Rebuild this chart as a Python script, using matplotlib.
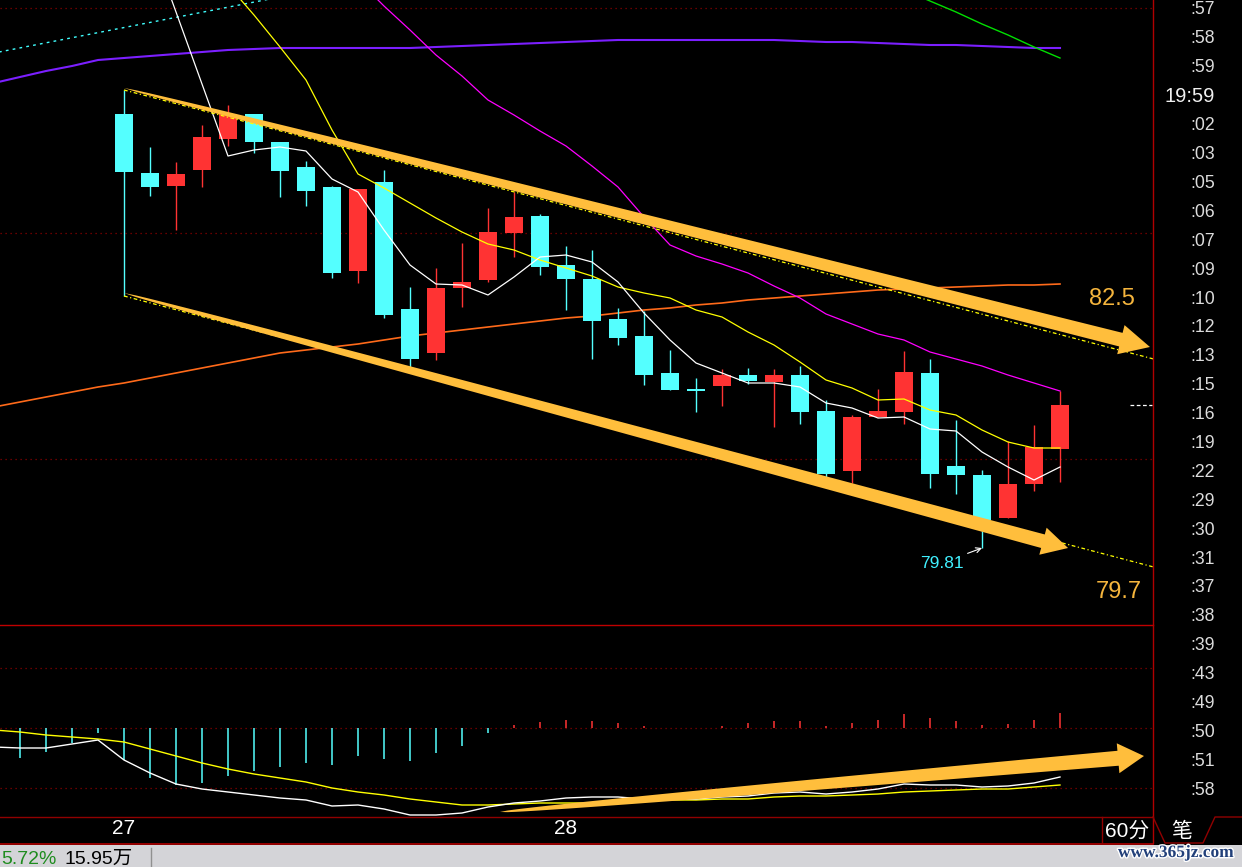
import numpy as np
import matplotlib
matplotlib.use("Agg")
import matplotlib.pyplot as plt
from matplotlib.patches import Polygon, Rectangle
import matplotlib.patheffects as pe

plt.rcParams['font.family'] = ['Liberation Sans', 'Noto Sans CJK SC', 'DejaVu Sans']

# ---- K线数据 (60分) ----
opens = [84.15, 83.56, 83.43, 83.59, 83.90, 84.15, 83.87, 83.62, 83.42, 82.58,
         83.47, 82.20, 81.76, 82.41, 82.49, 82.96, 83.13, 82.64, 82.50, 82.10,
         81.93, 81.56, 81.40, 81.43, 81.54, 81.47, 81.54, 81.18, 80.58, 81.12,
         81.17, 81.56, 80.63, 80.54, 80.11, 80.45, 80.80]
closes = [83.57, 83.42, 83.55, 83.92, 84.15, 83.87, 83.58, 83.38, 82.56, 83.40,
          82.14, 81.70, 82.41, 82.47, 82.97, 83.12, 82.62, 82.50, 82.08, 81.91,
          81.54, 81.39, 81.38, 81.54, 81.48, 81.54, 81.17, 80.55, 81.12, 81.18,
          81.57, 80.55, 80.54, 80.09, 80.45, 80.82, 81.24]
highs = [84.39, 83.82, 83.67, 84.04, 84.24, 84.15, 83.87, 83.68, 83.43, 83.40,
         83.59, 82.42, 82.61, 82.86, 83.21, 83.37, 83.15, 82.83, 82.79, 82.21,
         82.18, 81.79, 81.51, 81.60, 81.61, 81.60, 81.63, 81.29, 81.14, 81.40,
         81.78, 81.70, 81.09, 80.59, 80.88, 81.04, 81.38]
lows = [82.33, 83.33, 82.99, 83.42, 83.83, 83.76, 83.32, 83.23, 82.51, 82.46,
        82.11, 81.56, 81.69, 82.22, 82.47, 82.72, 82.54, 82.19, 81.70, 81.84,
        81.44, 81.39, 81.17, 81.23, 81.45, 81.02, 81.05, 80.52, 80.46, 81.12,
        81.05, 80.41, 80.35, 79.81, 80.11, 80.38, 80.47]

# ---- 均线 (起始序号, 数值) ----
ma5_start = 0
ma5 = [86.59, 85.89, 85.17, 84.45, 83.73, 83.79, 83.82, 83.78, 83.50, 83.37,
       82.99, 82.64, 82.45, 82.44, 82.34, 82.52, 82.72, 82.74, 82.67, 82.47,
       82.16, 81.89, 81.66, 81.56, 81.46, 81.46, 81.42, 81.26, 81.21, 81.11,
       81.12, 81.00, 80.98, 80.77, 80.62, 80.49, 80.62]
ma10_start = 4
ma10 = [85.44, 85.14, 84.82, 84.49, 83.99, 83.55, 83.41, 83.26, 83.11, 82.97,
        82.85, 82.79, 82.69, 82.61, 82.53, 82.42, 82.36, 82.31, 82.19, 82.12,
        81.97, 81.84, 81.67, 81.49, 81.41, 81.29, 81.30, 81.19, 81.14, 80.99,
        80.87, 80.81, 80.81]
ma20_start = 8
ma20 = [85.74, 85.49, 85.23, 84.99, 84.74, 84.53, 84.29, 84.14, 83.98, 83.83,
        83.63, 83.42, 83.12, 82.84, 82.73, 82.65, 82.56, 82.43, 82.31, 82.15,
        82.05, 81.95, 81.89, 81.77, 81.70, 81.63, 81.54, 81.46, 81.38]
ma60_start = -5
ma60 = [84.46, 84.52, 84.58, 84.63, 84.69, 84.71, 84.73, 84.75, 84.77, 84.79,
        84.80, 84.81, 84.81, 84.81, 84.81, 84.81, 84.81, 84.82, 84.83, 84.84,
        84.85, 84.86, 84.87, 84.88, 84.89, 84.89, 84.89, 84.89, 84.89, 84.89,
        84.89, 84.88, 84.87, 84.87, 84.86, 84.85, 84.84, 84.84, 84.83, 84.82,
        84.81, 84.81]
ma120_start = -5
ma120 = [81.22, 81.27, 81.32, 81.37, 81.42, 81.46, 81.51, 81.56, 81.61, 81.66,
         81.71, 81.76, 81.79, 81.82, 81.85, 81.89, 81.93, 81.96, 81.99, 82.02,
         82.05, 82.08, 82.11, 82.13, 82.16, 82.19, 82.21, 82.24, 82.26, 82.29,
         82.31, 82.33, 82.35, 82.37, 82.39, 82.40, 82.41, 82.42, 82.43, 82.44,
         82.44, 82.45]
ma40_start = 30
ma40 = [85.39, 85.28, 85.17, 85.05, 84.94, 84.82, 84.71]
cyan_x = [-5, 6]
cyan_y = [84.76, 85.32]

# ---- 通道线 ----
chan_x = [0, 39.6]
chan_up = [84.39, 81.70]
chan_dn = [82.33, 79.62]

# 箭头 (起点, 终点)
arrow_up = [(0, 84.41), (39.46, 81.82)]
arrow_dn = [(0, 82.36), (36.31, 79.81)]
arrow_macd = [(14.46, -0.084), (39.23, -0.028)]

# ---- MACD ----
macd_start = -4
macd_bar = [-0.030, -0.024, -0.015, -0.005, -0.032, -0.050, -0.057, -0.055, -0.048, -0.043,
            -0.039, -0.035, -0.037, -0.028, -0.031, -0.033, -0.025, -0.018, -0.005, 0.003,
            0.006, 0.008, 0.007, 0.005, 0.002, 0.0005, 0.0005, 0.002, 0.005, 0.007,
            0.007, 0.002, 0.005, 0.008, 0.014, 0.010, 0.007, 0.003, 0.004, 0.008,
            0.015]
line_start = -5
dif = [-0.019, -0.020, -0.020, -0.016, -0.012, -0.032, -0.045, -0.056, -0.061, -0.064,
       -0.067, -0.070, -0.072, -0.078, -0.077, -0.081, -0.087, -0.087, -0.085, -0.079,
       -0.075, -0.073, -0.070, -0.069, -0.069, -0.071, -0.071, -0.071, -0.069, -0.068,
       -0.065, -0.064, -0.066, -0.064, -0.061, -0.056, -0.057, -0.057, -0.059, -0.058,
       -0.055, -0.049]
dea = [-0.002, -0.004, -0.007, -0.009, -0.011, -0.014, -0.021, -0.028, -0.035, -0.041,
       -0.046, -0.050, -0.054, -0.060, -0.064, -0.067, -0.071, -0.074, -0.077, -0.077,
       -0.076, -0.075, -0.075, -0.075, -0.072, -0.072, -0.072, -0.072, -0.071, -0.071,
       -0.069, -0.068, -0.068, -0.067, -0.066, -0.064, -0.063, -0.062, -0.061, -0.061,
       -0.059, -0.057]

date_ticks = [0, 17]
date_labels = ["27", "28"]
price_grid = [85.21, 82.96, 80.70]
macd_grid = [0.06, 0.0, -0.06]

# 右侧成交明细时间
tick_times = [":57", ":58", ":59", "19:59", ":02", ":03", ":05", ":06", ":07", ":09",
              ":10", ":12", ":13", ":15", ":16", ":19", ":22", ":29", ":30", ":31",
              ":37", ":38", ":39", ":43", ":49", ":50", ":51", ":58"]

UP = '#FF3333'
DOWN = '#54FFFF'
ARROW = '#FFBE3C'
GRID = '#8B0000'

W, H = 1242, 867
fig = plt.figure(figsize=(W / 100, H / 100), dpi=100, facecolor='black')

ax = fig.add_axes([0, (H - 625) / H, 1153 / W, 625 / H], facecolor='black')
ax2 = fig.add_axes([0, (H - 817) / H, 1153 / W, 192 / H], facecolor='black')
ov = fig.add_axes([0, 0, 1, 1], facecolor='none', zorder=10)
ov.set_xlim(0, W)
ov.set_ylim(H, 0)
ov.axis('off')

xlim = (-124 / 26, 1029 / 26)
for a in (ax, ax2):
    a.set_xlim(*xlim)
    for s in a.spines.values():
        s.set_visible(False)
    a.set_yticks([])
ax.set_ylim(79.04, 85.29)
ax2.set_ylim(-0.089, 0.103)
ax.set_xticks([])

# 网格
for p in price_grid:
    ax.axhline(p, color=GRID, lw=0.9, ls=(0, (1, 3)), zorder=0)
for m in macd_grid:
    ax2.axhline(m, color=GRID, lw=0.9, ls=(0, (1, 3)), zorder=0)

# K线
x = np.arange(len(opens))
o = np.array(opens)
c = np.array(closes)
col = [UP if cc >= oo else DOWN for oo, cc in zip(o, c)]
ax.vlines(x, lows, highs, colors=col, lw=1.0, zorder=3)
body = np.maximum(np.abs(c - o), 0.015)
ax.bar(x, body, bottom=np.minimum(o, c), width=0.72, color=col, linewidth=0, zorder=4)

# 均线
def series_x(start, vals):
    return np.arange(start, start + len(vals))

ax.plot(series_x(ma120_start, ma120), ma120, color='#FF6A1A', lw=1.2, zorder=2)
ax.plot(series_x(ma60_start, ma60), ma60, color='#7B1FFF', lw=1.5, zorder=2)
ax.plot(series_x(ma40_start, ma40), ma40, color='#00E000', lw=1.0, zorder=2)
ax.plot(series_x(ma20_start, ma20), ma20, color='#FF00FF', lw=0.9, zorder=5)
ax.plot(series_x(ma10_start, ma10), ma10, color='#FFFF00', lw=0.9, zorder=5)
ax.plot(series_x(ma5_start, ma5), ma5, color='white', lw=0.9, zorder=5)
ax.plot(cyan_x, cyan_y, color='#40FFFF', lw=1.0, ls=(0, (2, 3)), zorder=2)

# 通道
ax.plot(chan_x, chan_up, color='#FFFF00', lw=0.9, ls=(0, (3, 2, 1, 2)), zorder=5)
ax.plot(chan_x, chan_dn, color='#FFFF00', lw=0.9, ls=(0, (3, 2, 1, 2)), zorder=5)

# 最新价标记
ax.hlines(closes[-1], 38.7, 39.55, colors='white', lw=0.9, ls=(0, (3, 2)), zorder=5)

# 最低价
low_i = int(np.argmin(lows))
ax.annotate(f"{lows[low_i]:.2f}", xy=(low_i, lows[low_i]), xytext=(low_i - 1.55, 79.66),
            color='#40F0FF', fontsize=12.5, ha='center', va='center', zorder=6,
            arrowprops=dict(arrowstyle='->', color='white', lw=0.8,
                            shrinkA=1, shrinkB=0, mutation_scale=9))

ax.text(38.0, 82.30, "82.5", color='#F5B53D', fontsize=17, ha='center', va='center')
ax.text(38.27, 79.37, "79.7", color='#F5B53D', fontsize=17, ha='center', va='center')

# MACD
mx = series_x(macd_start, macd_bar)
mcol = [UP if v > 0 else DOWN for v in macd_bar]
ax2.vlines(mx, 0, macd_bar, colors=mcol, lw=1.1, zorder=3)
ax2.plot(series_x(line_start, dea), dea, color='#FFFF00', lw=1.0, zorder=4)
ax2.plot(series_x(line_start, dif), dif, color='white', lw=1.0, zorder=4)

ax2.set_xticks(date_ticks)
ax2.set_xticklabels(date_labels, color='white', fontsize=15)
ax2.tick_params(axis='x', length=0, pad=1.5)

# 锥形箭头
def taper_arrow(src, p0, p1, w_shaft, head_w, head_len):
    a = ov.transData.inverted().transform(src.transData.transform(p0))
    b = ov.transData.inverted().transform(src.transData.transform(p1))
    d = b - a
    L = np.hypot(d[0], d[1])
    u = d / L
    n = np.array([-u[1], u[0]])
    t = np.linspace(0, 1, 80)
    Ls = L - head_len
    half = w_shaft / 2 * np.sqrt(t)
    s1 = a + np.outer(t * Ls, u) + np.outer(half, n)
    s2 = a + np.outer(t * Ls, u) - np.outer(half, n)
    base = a + u * Ls
    pts = np.vstack([s1, [base + n * head_w, b, base - n * head_w], s2[::-1]])
    ov.add_patch(Polygon(pts, closed=True, facecolor=ARROW, edgecolor='none', zorder=5))

taper_arrow(ax, arrow_up[0], arrow_up[1], 14, 15, 30)
taper_arrow(ax, arrow_dn[0], arrow_dn[1], 14, 14, 26)
taper_arrow(ax2, arrow_macd[0], arrow_macd[1], 15, 15, 26)

# 边框
ov.plot([0, 1153], [625, 625], color='#C00000', lw=1.0)
ov.plot([0, 1153], [817, 817], color='#900000', lw=1.0)
ov.plot([0, 1153], [843.5, 843.5], color='#B00000', lw=1.2)
ov.plot([1153, 1153], [0, 843], color='#B00000', lw=1.0)
ov.plot([1102, 1102], [817, 843], color='#900000', lw=1.0)
ov.plot([1153, 1165, 1203, 1215, 1242], [817, 843, 843, 817, 817], color='#900000', lw=1.0)

# 右侧时间列表
for k, t in enumerate(tick_times):
    big = len(t) > 3
    ov.text(1215, 10 + 28.9 * k, t, color='#F0F0F0' if big else '#DCDCDC',
            fontsize=14.5 if big else 12.7, ha='right', va='center')

ov.text(1127, 831, "60分", color='white', fontsize=15, ha='center', va='center')
ov.text(1182, 831, "笔", color='white', fontsize=15, ha='center', va='center',
        family=['Noto Sans CJK SC', 'DejaVu Sans'])

# 底部状态栏
ov.add_patch(Rectangle((0, 845), W, 22, facecolor='#D4D4D8', edgecolor='none', zorder=1))
ov.plot([151, 151], [848, 867], color='#909090', lw=1.0, zorder=2)
ov.text(1, 864, "5.72%", color='#1E8C1E', fontsize=14, ha='left', va='baseline', zorder=2)
ov.text(64, 864, "15.95万", color='black', fontsize=14, ha='left', va='baseline', zorder=2)
ov.text(1176, 853, "www.365jz.com", color='#22407A', fontsize=12.5, ha='center', va='center',
        family='Liberation Serif', weight='bold', zorder=3,
        path_effects=[pe.withStroke(linewidth=2, foreground='white')])

fig.savefig("out.png", dpi=100, facecolor='black')
